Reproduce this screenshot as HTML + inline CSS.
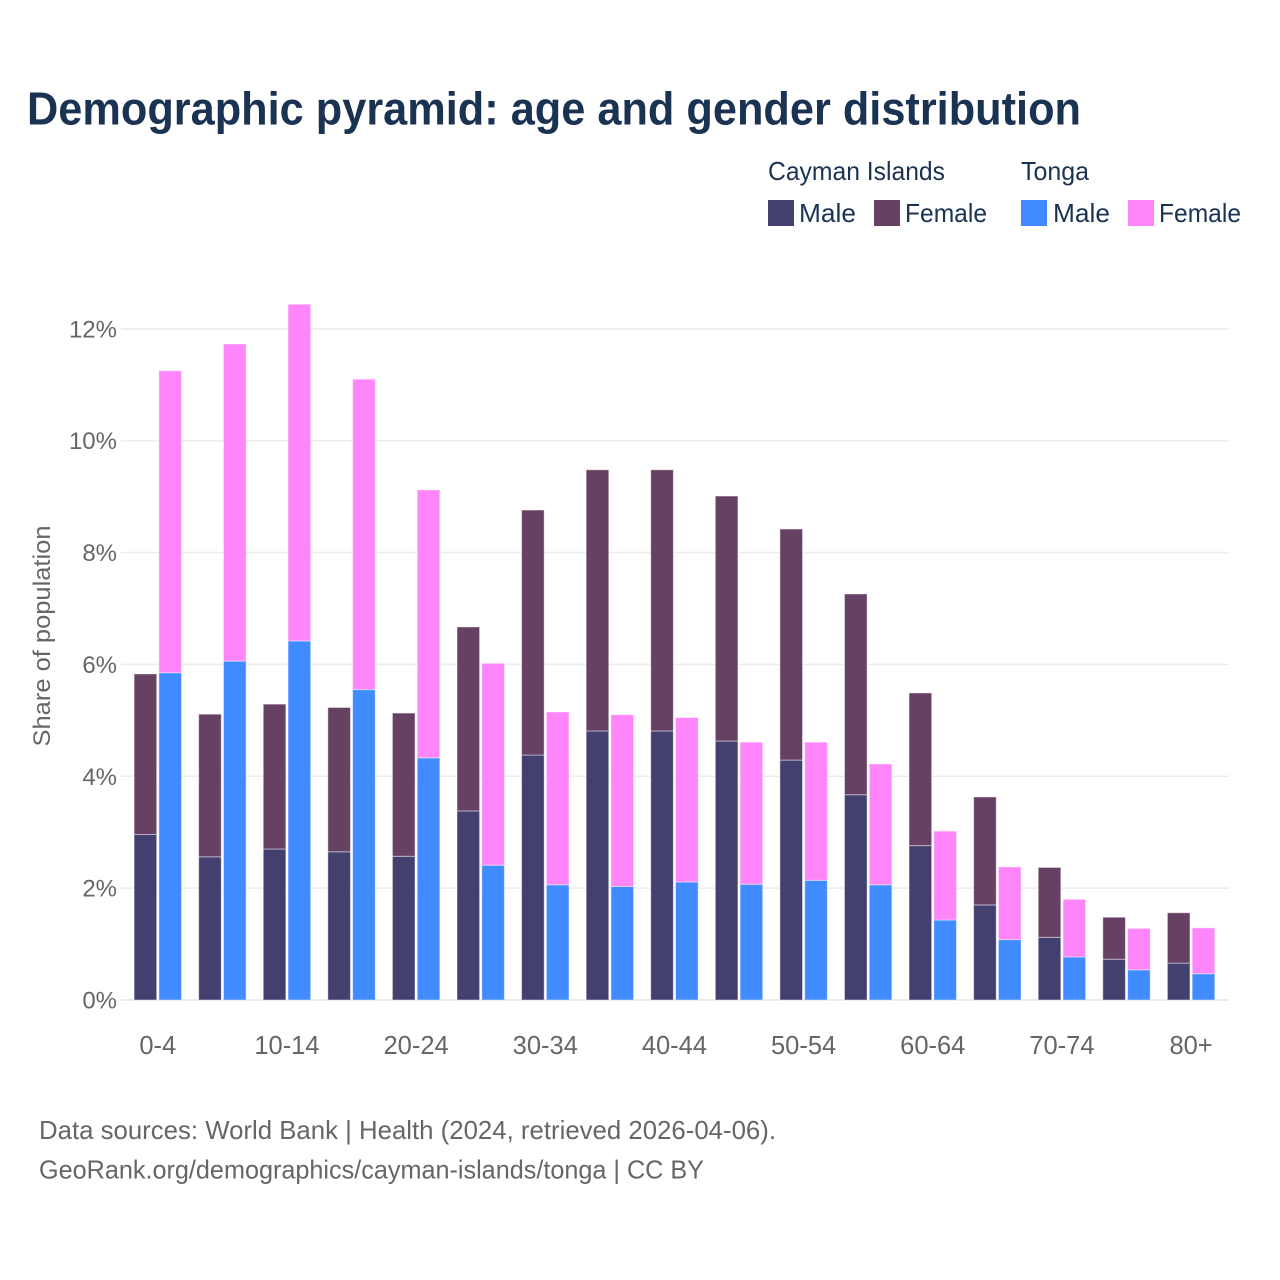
<!DOCTYPE html>
<html lang="en">
<head>
<meta charset="utf-8">
<title>Demographic pyramid: age and gender distribution</title>
<style>
html,body{margin:0;padding:0;background:#fff;width:1280px;height:1280px;overflow:hidden}
svg{display:block}
text{font-family:"Liberation Sans",sans-serif}
</style>
</head>
<body>
<svg id="chart" xmlns="http://www.w3.org/2000/svg" width="1280" height="1280" viewBox="0 0 1280 1280">
  <rect width="1280" height="1280" fill="#ffffff"/>
  <text x="27" y="124.5" font-size="46" font-weight="700" fill="#1a3353" textLength="1054" lengthAdjust="spacingAndGlyphs">Demographic pyramid: age and gender distribution</text>

  <g font-size="26" fill="#1a3353">
    <text x="768" y="180" textLength="177" lengthAdjust="spacingAndGlyphs">Cayman Islands</text>
    <text x="1021" y="180" textLength="68" lengthAdjust="spacingAndGlyphs">Tonga</text>
    <rect x="768" y="200" width="26" height="26" fill="#434070"/>
    <text x="799" y="222" textLength="57" lengthAdjust="spacingAndGlyphs">Male</text>
    <rect x="874" y="200" width="26" height="26" fill="#674163"/>
    <text x="905" y="222" textLength="82" lengthAdjust="spacingAndGlyphs">Female</text>
    <rect x="1021" y="200" width="26" height="26" fill="#408bff"/>
    <text x="1053" y="222" textLength="57" lengthAdjust="spacingAndGlyphs">Male</text>
    <rect x="1128" y="200" width="26" height="26" fill="#ff85fb"/>
    <text x="1159" y="222" textLength="82" lengthAdjust="spacingAndGlyphs">Female</text>
  </g>

  <g id="grid"></g>
  <g id="yticks"></g>
  <g id="bars"></g>
  <g id="xticks"></g>

  <text transform="translate(50,636) rotate(-90)" text-anchor="middle" font-size="24" fill="#666666" textLength="221" lengthAdjust="spacingAndGlyphs">Share of population</text>

  <text x="39" y="1139" font-size="26" fill="#666666" textLength="737" lengthAdjust="spacingAndGlyphs">Data sources: World Bank | Health (2024, retrieved 2026-04-06).</text>
  <text x="39" y="1178.5" font-size="26" fill="#666666" textLength="665" lengthAdjust="spacingAndGlyphs">GeoRank.org/demographics/cayman-islands/tonga | CC BY</text>
</svg>
<script>
const categories = ["0-4","5-9","10-14","15-19","20-24","25-29","30-34","35-39","40-44","45-49","50-54","55-59","60-64","65-69","70-74","75-79","80+"];
const xTickLabels = ["0-4","","10-14","","20-24","","30-34","","40-44","","50-54","","60-64","","70-74","","80+"];
const yTickValues = [0,2,4,6,8,10,12];
const caymanMale = [2.96,2.56,2.70,2.65,2.57,3.38,4.38,4.81,4.81,4.63,4.29,3.67,2.76,1.70,1.12,0.73,0.66];
const caymanFemale = [2.87,2.55,2.59,2.58,2.56,3.29,4.38,4.67,4.67,4.38,4.13,3.59,2.73,1.93,1.25,0.75,0.90];
const tongaMale = [5.85,6.06,6.42,5.55,4.33,2.41,2.06,2.03,2.11,2.07,2.14,2.06,1.43,1.08,0.77,0.54,0.47];
const tongaFemale = [5.40,5.67,6.02,5.55,4.79,3.61,3.09,3.07,2.94,2.54,2.47,2.16,1.59,1.30,1.03,0.74,0.82];

const NS = "http://www.w3.org/2000/svg";
const yScale = function (v) { return 1000 - v * 55.93; };
const xScale = function (i) { return 157.8 + i * 64.58; };
const BAR_W = 22.6;
const BAR_GAP = 2.2;

function makeBar(parent, x, v0, v1, fill) {
  const r = document.createElementNS(NS, "rect");
  r.setAttribute("x", x);
  r.setAttribute("y", yScale(v1));
  r.setAttribute("width", BAR_W);
  r.setAttribute("height", yScale(v0) - yScale(v1));
  r.setAttribute("fill", fill);
  r.setAttribute("stroke", "#ffffff");
  r.setAttribute("stroke-opacity", "0.45");
  r.setAttribute("stroke-width", "1");
  parent.appendChild(r);
  return r;
}

const gridG = document.getElementById("grid");
const yticksG = document.getElementById("yticks");
yTickValues.forEach(function (v) {
  const line = document.createElementNS(NS, "line");
  
  
  line.setAttribute("x1", 121);
  line.setAttribute("x2", 1229);
  line.setAttribute("y1", yScale(v));
  line.setAttribute("y2", yScale(v));
  line.setAttribute("stroke", "#ececec");
  line.setAttribute("stroke-width", v === 0 ? 2 : 1.5);
  gridG.appendChild(line);

  const label = document.createElementNS(NS, "text");
  
  
  label.setAttribute("x", 117);
  label.setAttribute("y", yScale(v) + 8.5);
  label.setAttribute("text-anchor", "end");
  label.setAttribute("font-size", "24");
  label.setAttribute("fill", "#666666");
  label.textContent = v + "%";
  yticksG.appendChild(label);
});

const barsG = document.getElementById("bars");
categories.forEach(function (cat, i) {
  const cx = xScale(i);
  const xC = cx - BAR_W - BAR_GAP / 2;
  const xT = cx + BAR_GAP / 2;

  const m1 = makeBar(barsG, xC, 0, caymanMale[i], "#434070");
  
  

  const f1 = makeBar(barsG, xC, caymanMale[i], caymanMale[i] + caymanFemale[i], "#674163");
  
  

  const m2 = makeBar(barsG, xT, 0, tongaMale[i], "#408bff");
  
  

  const f2 = makeBar(barsG, xT, tongaMale[i], tongaMale[i] + tongaFemale[i], "#ff85fb");
  
  
});

const xticksG = document.getElementById("xticks");
xTickLabels.forEach(function (lab, i) {
  if (!lab) return;
  const t = document.createElementNS(NS, "text");
  
  
  t.setAttribute("x", xScale(i));
  t.setAttribute("y", 1054);
  t.setAttribute("text-anchor", "middle");
  t.setAttribute("font-size", "25.5");
  t.setAttribute("fill", "#666666");
  t.textContent = lab;
  xticksG.appendChild(t);
});
</script>
</body>
</html>
